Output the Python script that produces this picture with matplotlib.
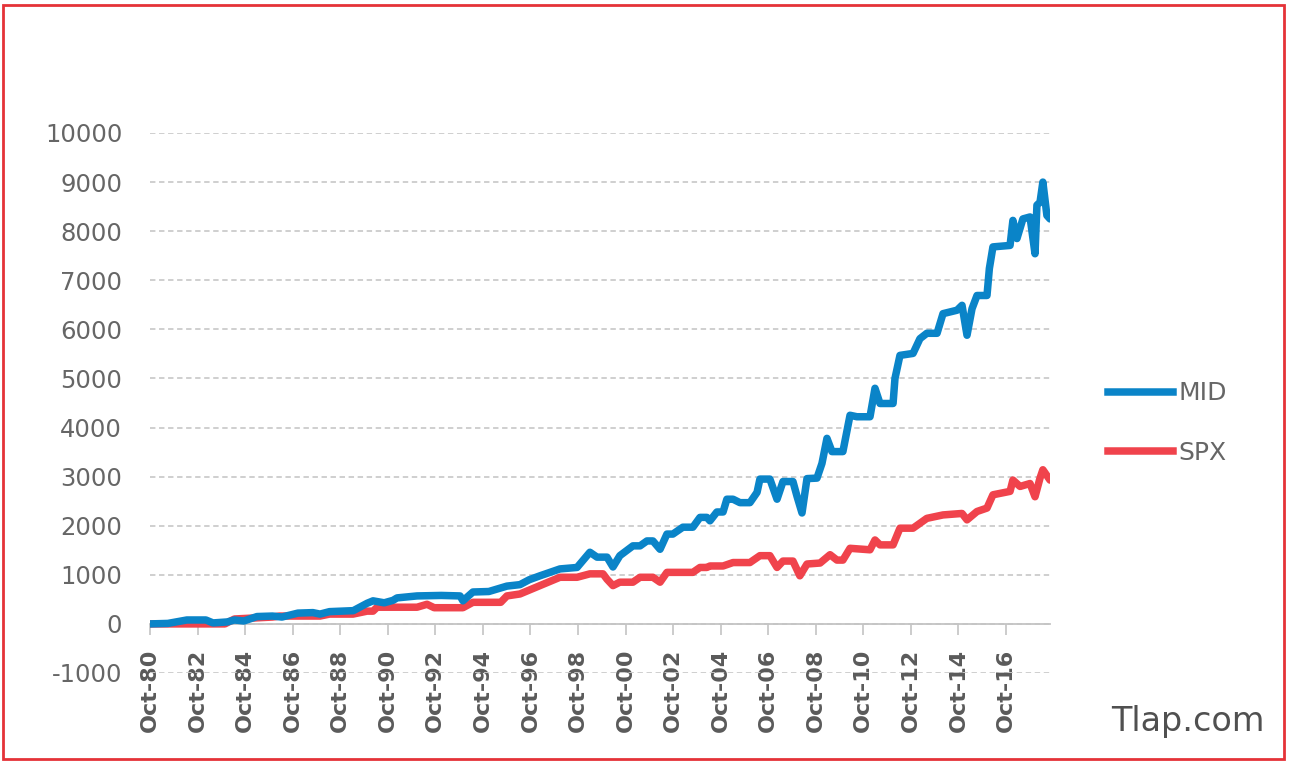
import matplotlib
matplotlib.use("Agg")
import matplotlib.pyplot as plt
from matplotlib.patches import Rectangle
import numpy as np

# ---- data (decimal years, index values) ----
mid_t = [1980.75, 1981.5, 1982.3, 1983.1, 1983.4, 1984.0, 1984.3, 1984.7, 1985.25, 1985.9,
         1986.3, 1986.97, 1987.6, 1987.9, 1988.3, 1989.3, 1989.88, 1990.13, 1990.6, 1990.97,
         1991.14, 1991.98, 1993.0, 1993.79, 1993.91, 1994.33, 1995.0, 1995.76, 1996.31, 1996.7,
         1997.15, 1997.99, 1998.71, 1999.25, 1999.55, 1999.97, 2000.22, 2000.51, 2001.06, 2001.36,
         2001.65, 2001.9, 2002.2, 2002.49, 2002.74, 2003.16, 2003.58, 2003.88, 2004.17, 2004.3,
         2004.59, 2004.85, 2005.01, 2005.27, 2005.56, 2005.98, 2006.28, 2006.4, 2006.82, 2007.12,
         2007.37, 2007.79, 2007.96, 2008.17, 2008.38, 2008.8, 2009.01, 2009.22, 2009.43, 2009.89,
         2010.19, 2010.48, 2011.03, 2011.24, 2011.45, 2012.0, 2012.08, 2012.29, 2012.84, 2013.13,
         2013.42, 2013.85, 2014.1, 2014.69, 2014.9, 2015.11, 2015.32, 2015.53, 2015.95, 2016.05,
         2016.2, 2016.92, 2017.04, 2017.21, 2017.46, 2017.76, 2017.97, 2018.05, 2018.18, 2018.3,
         2018.47, 2018.6]
mid_v = [0, 10, 80, 80, 20, 40, 80, 60, 150, 160,
         140, 220, 230, 200, 250, 270, 420, 470, 430, 480,
         530, 570, 580, 570, 470, 650, 660, 770, 800, 900,
         980, 1120, 1150, 1460, 1360, 1360, 1160, 1390, 1590, 1590,
         1690, 1690, 1520, 1830, 1830, 1970, 1970, 2170, 2170, 2100,
         2280, 2280, 2540, 2540, 2470, 2470, 2680, 2950, 2950, 2540,
         2900, 2900, 2600, 2260, 2960, 2970, 3270, 3780, 3510, 3510,
         4250, 4220, 4220, 4800, 4490, 4490, 5000, 5470, 5510, 5810,
         5920, 5920, 6320, 6390, 6490, 5880, 6420, 6690, 6690, 7240,
         7680, 7710, 8220, 7850, 8250, 8290, 7540, 8530, 8590, 9000,
         8320, 8250]

spx_t = [1980.75, 1983.9, 1984.3, 1985.9, 1986.2, 1987.9, 1988.3, 1989.29, 1989.88, 1990.13,
         1990.3, 1991.98, 1992.4, 1992.7, 1993.91, 1994.33, 1995.5, 1995.76, 1996.31, 1997.15,
         1997.99, 1998.71, 1999.25, 1999.8, 1999.97, 2000.22, 2000.51, 2001.06, 2001.36, 2001.9,
         2002.2, 2002.49, 2003.58, 2003.88, 2004.17, 2004.3, 2004.85, 2005.27, 2005.98, 2006.4,
         2006.82, 2007.12, 2007.37, 2007.79, 2008.08, 2008.38, 2008.93, 2009.35, 2009.64, 2009.89,
         2010.19, 2011.03, 2011.24, 2011.45, 2012.0, 2012.29, 2012.84, 2013.42, 2014.1, 2014.9,
         2015.11, 2015.53, 2015.95, 2016.2, 2016.92, 2017.04, 2017.34, 2017.76, 2017.97, 2018.18,
         2018.3, 2018.6]
spx_v = [0, 0, 100, 140, 160, 160, 200, 200, 260, 260,
         340, 340, 400, 330, 330, 440, 440, 570, 610, 780,
         950, 950, 1020, 1020, 910, 780, 850, 850, 950, 950,
         850, 1050, 1050, 1150, 1150, 1180, 1180, 1250, 1250, 1390,
         1390, 1150, 1280, 1280, 980, 1220, 1240, 1410, 1300, 1300,
         1540, 1510, 1710, 1610, 1610, 1950, 1950, 2150, 2220, 2250,
         2120, 2290, 2360, 2630, 2700, 2930, 2800, 2860, 2590, 2970,
         3140, 2930]

tick_years = list(range(1980, 2017, 2))
tick_pos = [y + 0.75 for y in tick_years]
tick_labels = ["Oct-%02d" % (y % 100) for y in tick_years]
y_ticks = list(range(-1000, 10001, 1000))

BLUE = "#0a84c8"
RED = "#f0434c"
TXT = "#666666"
LW = 5.4

W, H = 1290, 767
fig = plt.figure(figsize=(W / 100, H / 100), dpi=100)
ax = fig.add_axes([150 / W, 1 - 673 / H, 900 / W, 540 / H])

ax.plot(spx_t, spx_v, color=RED, lw=LW, solid_joinstyle="round", solid_capstyle="round", zorder=3, label="SPX")
ax.plot(mid_t, mid_v, color=BLUE, lw=LW, solid_joinstyle="round", solid_capstyle="round", zorder=4, label="MID")

ax.set_xlim(1980.75, 2018.6)
ax.set_ylim(-1000, 10000)
ax.set_yticks(y_ticks)
ax.set_yticklabels([str(v) for v in y_ticks])
ax.yaxis.grid(True, color="#cccccc", lw=1.3, ls=(0, (3, 2)))
ax.set_axisbelow(True)
ax.tick_params(axis="y", length=0, pad=20, labelsize=17.5, labelcolor=TXT)

for s in ["top", "right", "left"]:
    ax.spines[s].set_visible(False)
ax.spines["bottom"].set_position(("data", 0))
ax.spines["bottom"].set_color("#c4c4c4")
ax.spines["bottom"].set_linewidth(1.3)

ax.set_xticks(tick_pos)
ax.set_xticklabels(tick_labels, rotation=90, fontweight="bold", fontsize=16, color="#5a5a5a")
ax.tick_params(axis="x", length=8, width=1.2, color="#c4c4c4", pad=10, direction="out")

# legend (right side)
leg_handles = [plt.Line2D([], [], color=BLUE, lw=LW), plt.Line2D([], [], color=RED, lw=LW)]
fig.legend(leg_handles, ["MID", "SPX"], loc="center left", bbox_to_anchor=(1085 / W, 1 - 423 / H),
           frameon=False, fontsize=18, labelcolor=TXT, handlelength=2.6, handletextpad=0.25,
           labelspacing=1.4)

fig.text(1265 / W, 1 - 721 / H, "Tlap.com", ha="right", va="center", fontsize=24, color="#505050")

fig.patches.append(Rectangle((3 / W, 1 - 759 / H), 1281 / W, 754 / H, transform=fig.transFigure,
                             fill=False, edgecolor="#e53238", lw=2))

fig.savefig("out.png", dpi=100)
